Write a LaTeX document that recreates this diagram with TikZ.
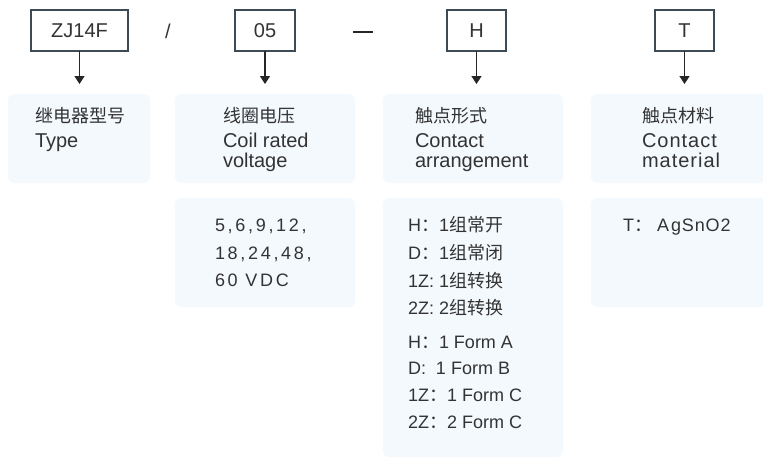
\documentclass[tikz,border=0pt]{standalone}
\usepackage{fontspec}
\setmainfont{Liberation Sans}
\newfontfamily\cjk{Noto Sans CJK SC}
\newfontfamily\spaced[LetterSpace=15]{Liberation Sans}
\newfontfamily\lightspaced[LetterSpace=5]{Liberation Sans}
\usetikzlibrary{arrows.meta}
\definecolor{boxfill}{HTML}{F4F9FE}
\definecolor{frame}{HTML}{3C4B55}
\definecolor{ink}{HTML}{333333}
\begin{document}
\begin{tikzpicture}[x=1pt,y=-1pt,
  every node/.style={inner sep=0pt, outer sep=0pt, text=ink},
  codebox/.style={draw=frame, line width=1.2pt, fill=white, minimum height=41pt, font=\fontsize{20}{24}\selectfont},
  panel/.style={fill=boxfill, rounded corners=6pt, draw=none},
  lbl/.style={anchor=base west, font=\fontsize{18}{22}\selectfont},
  ttl/.style={anchor=base west, font=\fontsize{20}{24}\selectfont},
  arr/.style={-{Triangle[width=10pt,length=8pt]}, line width=1.5pt, draw=black!85, shorten >=10pt}]
\useasboundingbox (0,0) rectangle (763,459);

% code boxes
\node[codebox, minimum width=97pt] (zj) at (79.5,30.5) {ZJ14F};
\node[codebox, minimum width=60pt] (v) at (265,30.5) {05};
\node[codebox, minimum width=59pt] (h) at (476.5,30.5) {H};
\node[codebox, minimum width=59pt] (t) at (684.5,30.5) {T};
\node[font=\fontsize{20}{24}\selectfont] (slash) at (168,31) {/};
\node[fill=black!85, minimum width=20pt, minimum height=2.6pt] (dash) at (363,32) {};

% panels
\node[panel, minimum width=142pt, minimum height=89pt] (p1) at (79,138.5) {};
\node[panel, minimum width=180pt, minimum height=89pt] (p2) at (265,138.5) {};
\node[panel, minimum width=180pt, minimum height=89pt] (p3) at (473,138.5) {};
\node[panel, minimum width=177pt, minimum height=89pt] (p4) at (679.5,138.5) {};
\node[panel, minimum width=180pt, minimum height=109pt] (q2) at (265,252.5) {};
\node[panel, minimum width=180pt, minimum height=259pt] (q3) at (473,327.5) {};
\node[panel, minimum width=177pt, minimum height=109pt] (q4) at (679.5,252.5) {};

% arrows
\draw[arr] (zj.south) -- (zj.south |- p1.north);
\draw[arr] (v.south) -- (v.south |- p2.north);
\draw[arr] (h.south) -- (h.south |- p3.north);
\draw[arr] (t.south) -- (t.south |- p4.north);

% panel titles
\node[lbl] (a1) at (35,122) {\cjk 继电器型号};
\node[ttl] (a2) at (35,147.5) {Type};
\node[lbl] (b1) at (223,122) {\cjk 线圈电压};
\node[ttl] (b2) at (223,147.5) {Coil rated};
\node[ttl] (b3) at (223,167) {voltage};
\node[lbl] (c1) at (415,122) {\cjk 触点形式};
\node[ttl] (c2) at (415,147.5) {Contact};
\node[ttl] (c3) at (415,167) {arrangement};
\node[lbl] (d1) at (642,122) {\cjk 触点材料};
\node[ttl] (d2) at (642,147.5) {\lightspaced Contact};
\node[ttl] (d3) at (642,167) {\lightspaced material};

% values
\node[lbl] (e1) at (215,231.5) {\spaced 5,6,9,12,};
\node[lbl] (e2) at (215,259.5) {\spaced 18,24,48,};
\node[lbl] (e3) at (215,286.5) {\spaced 60 VDC};

\node[lbl] (f1) at (408,231.5) {H{\cjk ：}1{\cjk 组常开}};
\node[lbl] (f2) at (408,259.5) {D{\cjk ：}1{\cjk 组常闭}};
\node[lbl] (f3) at (408,287.5) {1Z: 1{\cjk 组转换}};
\node[lbl] (f4) at (408,314.5) {2Z: 2{\cjk 组转换}};
\node[lbl] (f5) at (408,348.5) {H{\cjk ：}1 Form A};
\node[lbl] (f6) at (408,374.5) {D:\ \ 1 Form B};
\node[lbl] (f7) at (408,401.5) {1Z{\cjk ：}1 Form C};
\node[lbl] (f8) at (408,428.5) {2Z{\cjk ：}2 Form C};

\node[lbl] (g1) at (623,231.5) {T{\cjk ：}\kern5pt{\lightspaced A\kern2pt gSnO2}};
\end{tikzpicture}
\end{document}
